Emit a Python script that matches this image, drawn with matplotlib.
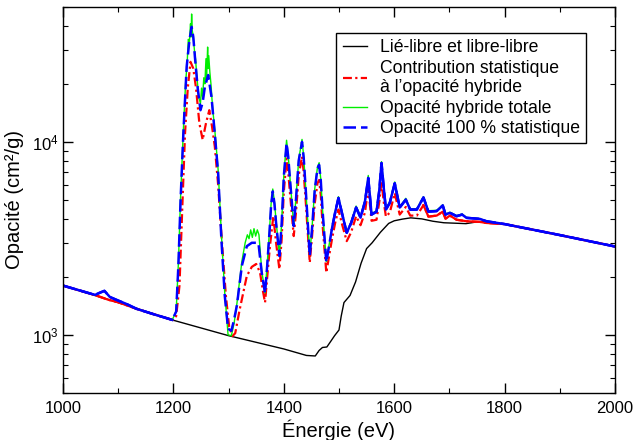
import matplotlib
matplotlib.use('Agg')
import matplotlib.pyplot as plt
from matplotlib.ticker import MultipleLocator, LogLocator, NullFormatter

plt.rcParams['font.family'] = ['Liberation Sans', 'DejaVu Sans']
plt.rcParams['mathtext.fontset'] = 'custom'
plt.rcParams['mathtext.rm'] = 'Liberation Sans'
plt.rcParams['mathtext.it'] = 'Liberation Sans:italic'

# lié-libre et libre-libre (noir)
e_bf = [1000, 1100, 1200, 1300, 1400, 1441, 1457, 1464, 1470, 1478, 1485, 1492, 1500,
        1504, 1509, 1520, 1530, 1540, 1550, 1560, 1575, 1590, 1600, 1615, 1630, 1650,
        1670, 1690, 1710, 1730, 1750, 1765, 1780, 1800, 1900, 2000]
op_bf = [1800, 1470, 1190, 990, 845, 782, 777, 830, 860, 865, 925, 990, 1060,
         1250, 1470, 1600, 1880, 2350, 2800, 3000, 3400, 3780, 3900, 3980, 4040, 3990,
         3880, 3810, 3790, 3770, 3850, 3870, 3790, 3750, 3290, 2870]

# opacité 100 % statistique (bleu)
e_stat = [1000, 1058, 1066, 1075, 1085, 1100, 1115, 1133, 1160, 1198, 1205, 1209, 1213,
          1218, 1224, 1229, 1233, 1236, 1239, 1244, 1249, 1253, 1257, 1263, 1269, 1275,
          1281, 1287, 1293, 1299, 1305, 1310, 1315, 1324, 1333, 1342, 1354, 1360, 1366,
          1370, 1374, 1377, 1380, 1383, 1386, 1392, 1396, 1400, 1405, 1408, 1411, 1418,
          1422, 1427, 1433, 1436, 1440, 1447, 1451, 1456, 1461, 1464, 1467, 1470, 1477,
          1487, 1493, 1499, 1506, 1514, 1522, 1531, 1539, 1547, 1553, 1559, 1568, 1573,
          1577, 1581, 1585, 1592, 1601, 1610, 1621, 1629, 1641, 1653, 1662, 1677, 1688,
          1693, 1701, 1713, 1723, 1731, 1755, 1767, 1800, 1900, 2000]
op_stat = [1800, 1610, 1650, 1690, 1570, 1505, 1445, 1365, 1290, 1195, 1320, 2280, 5000,
           11000, 24500, 33600, 39500, 35000, 27500, 19000, 14600, 16000, 19300, 22200, 17100, 11000,
           6900, 3100, 1600, 1075, 1050, 1200, 1420, 2280, 2880, 3000, 3000, 2100, 1640,
           2300, 3380, 4700, 5540, 4800, 3800, 2560, 3700, 6600, 9850, 8400, 6500, 3660,
           5000, 8000, 10000, 8300, 5500, 2560, 3500, 5600, 7300, 7600, 6300, 4500, 2370,
           3520, 4300, 5120, 4200, 3380, 3800, 4570, 4050, 4900, 6500, 4200, 4350, 5600,
           7770, 5800, 4460, 4830, 6100, 4570, 5020, 4460, 4460, 5150, 4350, 4380, 4680,
           4200, 4290, 4120, 4200, 4040, 3990, 3880, 3750, 3290, 2870]

# contribution statistique à l'opacité hybride (rouge)
e_contrib = [1000, 1058, 1082, 1100, 1133, 1160, 1198, 1205, 1211, 1216, 1221, 1226, 1231,
             1236, 1241, 1247, 1253, 1259, 1265, 1270, 1275, 1281, 1288, 1295, 1301, 1307,
             1312, 1320, 1333, 1342, 1350, 1357, 1362, 1366, 1370, 1375, 1381, 1386, 1392,
             1396, 1400, 1405, 1408, 1411, 1418, 1422, 1427, 1433, 1436, 1440, 1447, 1451,
             1456, 1461, 1464, 1467, 1470, 1477, 1487, 1493, 1499, 1506, 1514, 1522, 1531,
             1539, 1547, 1553, 1559, 1568, 1573, 1577, 1581, 1585, 1592, 1601, 1610, 1621,
             1629, 1641, 1653, 1662, 1677, 1688, 1693, 1701, 1713, 1731, 1755, 1767, 1800,
             1900, 2000]
op_contrib = [1800, 1607, 1520, 1475, 1365, 1290, 1195, 1250, 1800, 4500, 11000, 19000, 26000,
              24000, 19000, 12500, 10250, 12500, 14600, 12000, 9450, 6000, 3000, 1600, 1100, 985,
              1020, 1350, 2020, 2250, 2330, 2100, 1700, 1470, 2000, 2900, 4120, 3000, 2190,
              3100, 5500, 8200, 7000, 5500, 3250, 4300, 6700, 8400, 7000, 4800, 2370, 3200,
              4800, 6100, 6350, 5300, 3800, 2100, 3100, 3800, 4460, 3700, 3060, 3400, 4120,
              3700, 4300, 5760, 3900, 3950, 4900, 6240, 4900, 4100, 4300, 5430, 4200, 4600,
              4150, 4150, 4700, 4100, 4150, 4350, 4000, 4150, 3950, 3880, 3850, 3800, 3750,
              3290, 2870]

# opacité hybride totale (vert)
e_hyb = [1000, 1058, 1066, 1075, 1085, 1100, 1115, 1133, 1160, 1198, 1205, 1209, 1213,
         1218, 1222, 1225, 1227, 1229, 1231, 1232, 1233, 1234, 1236, 1238, 1240, 1243,
         1246, 1249, 1251, 1253, 1255, 1257, 1259, 1260, 1262, 1263, 1264, 1266, 1268,
         1271, 1275, 1281, 1287, 1293, 1299, 1305, 1310, 1315, 1324, 1330, 1334, 1337,
         1340, 1343, 1346, 1349, 1352, 1355, 1360, 1366, 1370, 1374, 1377, 1380, 1383,
         1386, 1392, 1396, 1400, 1405, 1408, 1411, 1418, 1422, 1427, 1433, 1436, 1440,
         1447, 1451, 1456, 1461, 1464, 1467, 1470, 1477, 1487, 1493, 1499, 1506, 1514,
         1522, 1531, 1539, 1547, 1553, 1559, 1568, 1573, 1577, 1581, 1585, 1592, 1601,
         1610, 1621, 1629, 1641, 1653, 1662, 1677, 1688, 1693, 1701, 1713, 1723, 1731,
         1755, 1767, 1800, 1900, 2000]
op_hyb = [1800, 1610, 1650, 1690, 1570, 1505, 1445, 1365, 1290, 1195, 1330, 2350, 5200,
          11500, 20000, 26000, 34000, 33000, 41000, 35000, 46000, 38000, 35000, 30000, 27000, 21000,
          17000, 15800, 19000, 17000, 21500, 20000, 27000, 21000, 31000, 24000, 28000, 23000, 20000,
          15000, 11500, 7200, 3300, 1650, 1000, 990, 1150, 1450, 2400, 3000, 3300, 3150,
          3500, 3200, 3550, 3250, 3500, 3300, 2150, 1650, 2350, 3450, 4800, 5700, 4900,
          3900, 2600, 3750, 6700, 10200, 8500, 6600, 3700, 5100, 8100, 10300, 8400, 5600,
          2600, 3550, 5700, 7400, 7800, 6400, 4550, 2400, 3550, 4350, 5200, 4250, 3400,
          3850, 4650, 4100, 4950, 6700, 4250, 4400, 5700, 7900, 5900, 4500, 4900, 6200,
          4600, 5100, 4500, 4500, 5200, 4400, 4420, 4720, 4230, 4320, 4150, 4230, 4060,
          4000, 3890, 3750, 3290, 2870]

fig, ax = plt.subplots(figsize=(6.34, 4.40), dpi=100)
fig.subplots_adjust(left=0.0994, right=0.970, bottom=0.107, top=0.984)

blue_dash = (0, (5, 2))
red_dash = (0, (4, 1.5, 1, 1.5))

ax.plot(e_bf, op_bf, color='black', lw=1.0, label='Lié-libre et libre-libre')

# the flat ends look solid in the original (dash pattern restarts on each short segment)
ax.plot(e_contrib, op_contrib, color='red', lw=1.6, ls=red_dash,
        label='Contribution statistique\nà l\u2019opacité hybride')
i0 = e_contrib.index(1198)
i1 = e_contrib.index(1653)
ax.plot(e_contrib[:i0 + 1], op_contrib[:i0 + 1], color='red', lw=1.6)
ax.plot(e_contrib[i1:], op_contrib[i1:], color='red', lw=1.6)

ax.plot(e_hyb, op_hyb, color='#00ee00', lw=1.0, label='Opacité hybride totale')

ax.plot(e_stat, op_stat, color='blue', lw=1.8, ls=blue_dash,
        label='Opacité 100 % statistique')
j0 = e_stat.index(1198)
j1 = e_stat.index(1487)
ax.plot(e_stat[:j0 + 1], op_stat[:j0 + 1], color='blue', lw=1.8)
ax.plot(e_stat[j1:], op_stat[j1:], color='blue', lw=1.8)

ax.set_yscale('log')
ax.set_xlim(1000, 2000)
ax.set_ylim(500, 50000)

ax.xaxis.set_major_locator(MultipleLocator(200))
ax.xaxis.set_minor_locator(MultipleLocator(100))
ax.yaxis.set_major_locator(LogLocator(base=10, numticks=10))
ax.yaxis.set_minor_locator(LogLocator(base=10, subs=range(2, 10), numticks=20))
ax.yaxis.set_minor_formatter(NullFormatter())

ax.tick_params(which='both', direction='in', top=True, right=True, labelsize=12)
ax.tick_params(which='major', length=7, width=1.0)
ax.tick_params(which='minor', length=3.6, width=0.8)
ax.tick_params(axis='x', which='major', pad=6)
ax.tick_params(axis='y', which='major', pad=3)
for sp in ax.spines.values():
    sp.set_linewidth(1.0)

ax.set_xlabel('Énergie (eV)', fontsize=14.5, labelpad=2)
ax.set_ylabel('Opacité (cm²/g)', fontsize=14.5, labelpad=6)

leg = ax.legend(loc='upper right', bbox_to_anchor=(0.947, 0.933), fontsize=12.7,
                frameon=True, fancybox=False, edgecolor='black', framealpha=1,
                handlelength=1.4, handletextpad=0.7, labelspacing=0.2,
                borderpad=0.35, borderaxespad=0)
leg.get_frame().set_linewidth(1.0)

plt.savefig('out.png', dpi=100)
